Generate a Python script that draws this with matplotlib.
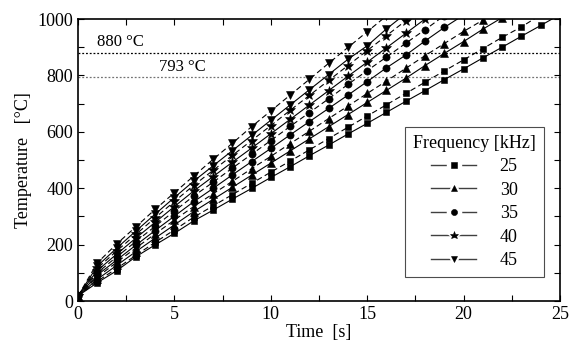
import matplotlib
matplotlib.use("Agg")
import matplotlib.pyplot as plt
from matplotlib.lines import Line2D
from matplotlib.legend_handler import HandlerTuple
from matplotlib.ticker import MultipleLocator

plt.rcParams['font.family'] = ['Liberation Serif', 'DejaVu Serif']

# time [s], one marker per second
time_s = [0, 1, 2, 3, 4, 5, 6, 7, 8, 9, 10, 11, 12, 13, 14, 15, 16, 17, 18, 19, 20, 21, 22, 23, 24, 25]

freqs = [25, 30, 35, 40, 45]
markers = ['s', '^', 'o', '*', 'v']

# temperature [deg C], solid = first run, dashed = second run
temp_25_solid = [18, 65, 107, 157, 199, 240, 284, 322, 361, 399, 438, 476, 515, 553, 592, 630, 669, 708, 746, 785, 823, 862, 900, 939, 977, 1016]
temp_25_dash = [18, 70, 115, 162, 208, 252, 297, 337, 377, 417, 457, 496, 536, 576, 616, 656, 696, 736, 776, 816, 855, 895, 935, 972, 1015]
temp_30_solid = [18, 77, 126, 175, 223, 270, 317, 360, 403, 446, 489, 532, 575, 618, 661, 704, 747, 790, 835, 878, 920, 964, 1005]
temp_30_dash = [18, 85, 137, 188, 238, 287, 335, 380, 424, 469, 513, 558, 602, 647, 691, 736, 780, 825, 870, 913, 956, 996, 1040]
temp_35_solid = [18, 92, 145, 198, 250, 301, 352, 399, 447, 494, 541, 589, 636, 683, 730, 778, 827, 872, 922, 970, 1014]
temp_35_dash = [18, 100, 156, 211, 265, 319, 372, 421, 471, 520, 569, 619, 668, 717, 768, 817, 865, 914, 962, 1012]
temp_40_solid = [18, 108, 166, 223, 279, 335, 390, 441, 492, 542, 593, 644, 695, 746, 797, 847, 898, 949, 1000, 1051]
temp_40_dash = [18, 116, 177, 236, 295, 353, 410, 463, 516, 569, 622, 676, 729, 782, 835, 888, 941, 994, 1047]
temp_45_solid = [18, 124, 187, 248, 308, 367, 425, 479, 533, 587, 641, 695, 749, 803, 857, 905, 965, 1019]
temp_45_dash = [18, 135, 202, 263, 325, 384, 443, 502, 559, 618, 674, 730, 786, 843, 899, 955, 1011]

solid_runs = [temp_25_solid, temp_30_solid, temp_35_solid, temp_40_solid, temp_45_solid]
dash_runs = [temp_25_dash, temp_30_dash, temp_35_dash, temp_40_dash, temp_45_dash]


def msize(mk):
    return {'s': 4.8, '^': 5.5, 'o': 5.2, '*': 7.0, 'v': 5.5}[mk]


fig = plt.figure(figsize=(5.71, 3.54), dpi=100)
ax = fig.add_axes([0.1366, 0.1497, 0.8441, 0.7966])

ax.axhline(880, color='black', linestyle=(0, (1.5, 1.5)), linewidth=0.9)
ax.axhline(793, color='0.45', linestyle=(0, (1.5, 1.5)), linewidth=0.9)

for mk, solid, dash in zip(markers, solid_runs, dash_runs):
    ax.plot(time_s[:len(solid)], solid, color='black', linewidth=0.8,
            marker=mk, markersize=msize(mk), markeredgewidth=0.4)
    ax.plot(time_s[:len(dash)], dash, color='black', linewidth=0.8,
            linestyle=(0, (5, 3)),
            marker=mk, markersize=msize(mk), markeredgewidth=0.4)

ax.text(1.0, 903, '880 °C', fontsize=12)
ax.text(4.2, 816, '793 °C', fontsize=12)

ax.set_xlim(0, 25)
ax.set_ylim(0, 1000)
ax.xaxis.set_major_locator(MultipleLocator(5))
ax.xaxis.set_minor_locator(MultipleLocator(2.5))
ax.yaxis.set_major_locator(MultipleLocator(200))
ax.yaxis.set_minor_locator(MultipleLocator(100))
ax.tick_params(which='both', direction='in', top=True, right=True, labelsize=13)
ax.tick_params(which='major', length=4, width=0.8)
ax.tick_params(which='minor', length=4, width=0.8)
for sp in ax.spines.values():
    sp.set_linewidth(1.2)

ax.set_xlabel('Time  [s]', fontsize=13, labelpad=1)
ax.set_ylabel('Temperature   [°C]', fontsize=13, labelpad=4)

# legend handle: short line, white gap round the marker, black marker
handles = []
for mk in markers:
    gap = Line2D([], [], color='0.25', linewidth=1.0, marker=mk,
                 markersize=msize(mk) + 5, markerfacecolor='white',
                 markeredgecolor='white')
    dot = Line2D([], [], linestyle='none', marker=mk, markersize=msize(mk) - 0.8,
                 color='black', markeredgewidth=0.4)
    handles.append((gap, dot))
leg = ax.legend(handles, [str(f) for f in freqs], title='Frequency [kHz]',
                handler_map={tuple: HandlerTuple(ndivide=1, pad=0)},
                loc='lower right', bbox_to_anchor=(0.978, 0.065),
                fontsize=13, title_fontsize=13, handlelength=2.5,
                handletextpad=1.3, labelspacing=0.36, borderpad=0.45,
                borderaxespad=0.3,
                fancybox=False, framealpha=1, edgecolor='0.3')
leg.get_frame().set_linewidth(0.8)

fig.savefig('out.png', dpi=100)
